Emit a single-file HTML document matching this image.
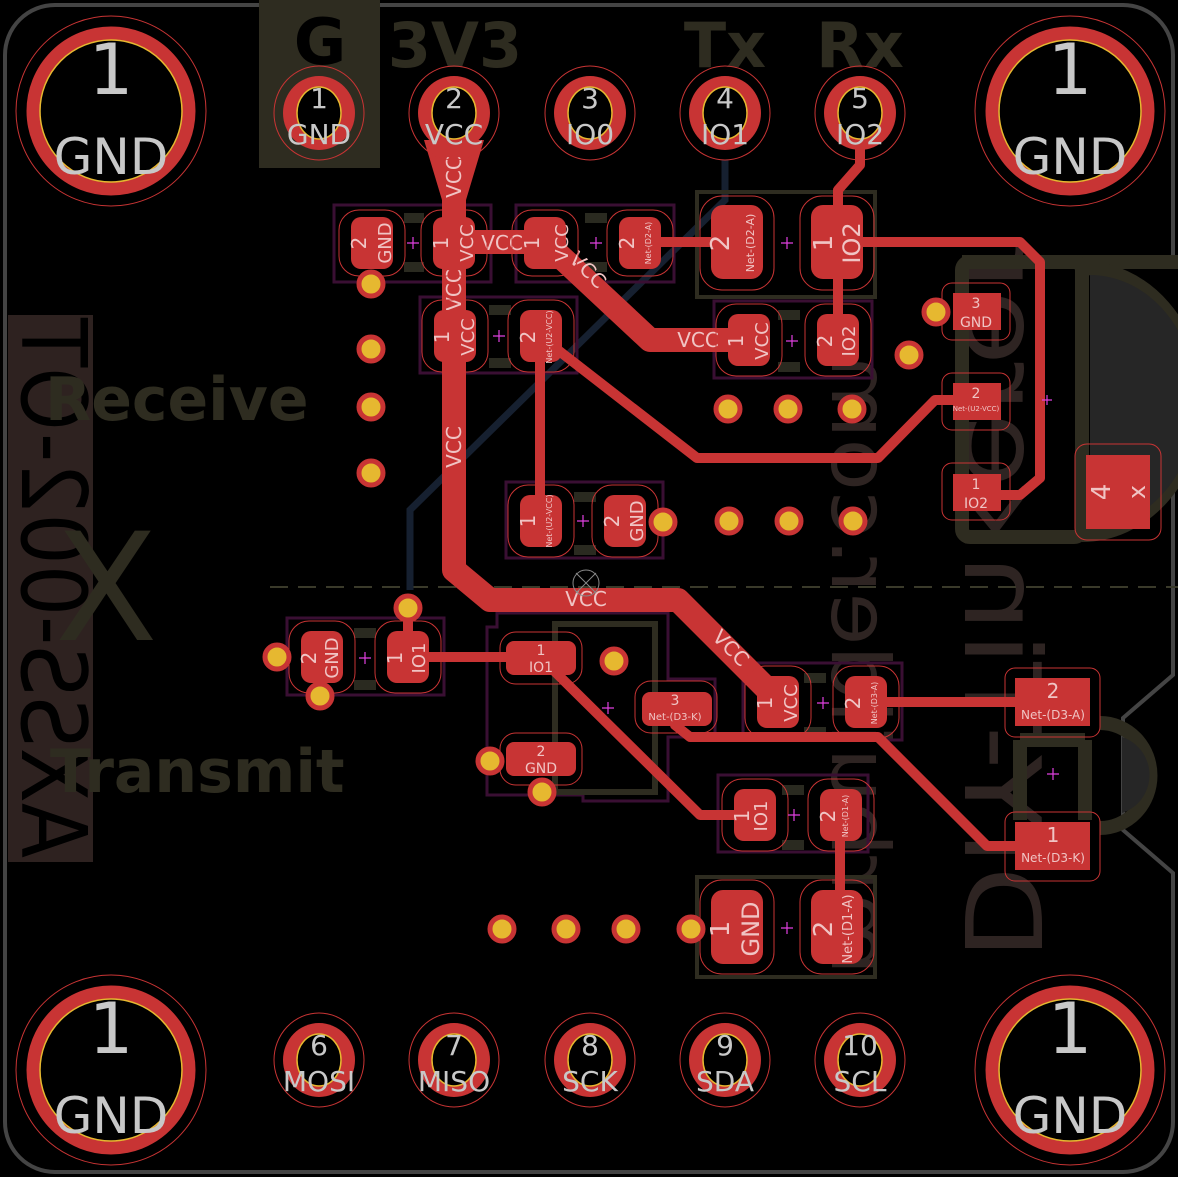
<!DOCTYPE html>
<html><head><meta charset="utf-8"><style>
html,body{margin:0;padding:0;background:#000;}
svg{display:block}
text{font-family:"DejaVu Sans","Liberation Sans",sans-serif;}
.pt{fill:#f0c4c4;text-anchor:middle;}
.pad{fill:#c83434;}
.po{fill:none;stroke:#c83434;stroke-width:1;}
.cy{fill:none;stroke:#3a0f33;stroke-width:3;}
.tr{stroke:#c83434;fill:none;stroke-linejoin:round;}
.via{fill:#e6b830;stroke:#c83434;stroke-width:5;}
.silk{fill:#2e2c20;}
.hd{fill:#c83434;}
.ht{fill:#c8c8c8;text-anchor:middle;}
</style></head><body>
<svg width="1178" height="1177" viewBox="0 0 1178 1177" xmlns="http://www.w3.org/2000/svg">
<rect width="1178" height="1177" fill="#000"/>
<path d="M55,5 H1123 A50,50 0 0 1 1173,55 V258 H1095 V440 H1173 V675 L1123,718 V830 L1173,873 V1122 A50,50 0 0 1 1123,1172 H55 A50,50 0 0 1 5,1122 V55 A50,50 0 0 1 55,5 Z" fill="none" stroke="#444" stroke-width="4"/>

<rect x="8" y="315" width="85" height="547" fill="#2e2220"/>
<text transform="translate(22,858) rotate(-90) scale(1,-1)" font-size="90" fill="#000" textLength="540" lengthAdjust="spacingAndGlyphs">AXSS-002-OT</text>
<text transform="translate(965,960) rotate(-90) scale(1,-1)" font-size="105" fill="#2e2422" textLength="720" lengthAdjust="spacingAndGlyphs">DIY-Tinkerer</text>
<text transform="translate(832,975) rotate(-90) scale(1,-1)" font-size="80" fill="#2e2422" textLength="620" lengthAdjust="spacingAndGlyphs">mrbuilder.com</text>

<g fill="none" stroke="#2e2c20" stroke-width="14">
<path d="M962,262 H1240"/>
<rect x="962" y="262" width="120" height="275" rx="8"/>
<path d="M1082,268 A95,110 0 0 1 1082,535"/>
</g>
<path d="M1090,275 A80,95 0 0 1 1090,528 Z" fill="#262626"/>
<g fill="none" stroke="#2e2c20" stroke-width="14">
<path d="M1020,740 V820 M1085,740 V820 M1020,740 H1085"/>
<path d="M1100,723 A50,52 0 0 1 1100,828"/>
</g>
<path d="M1122,737 A40,40 0 0 1 1122,813 Z" fill="#262626"/>

<rect x="259" y="0" width="121" height="168" fill="#2e2c20"/>
<text x="320" y="64" font-size="64" font-weight="bold" fill="#000" text-anchor="middle" font-family="Liberation Sans">G</text>
<g class="silk" font-size="62" font-weight="bold" font-family="Liberation Sans" text-anchor="middle">
<text x="455" y="67">3V3</text><text x="725" y="67">Tx</text><text x="860" y="67">Rx</text>
</g>
<text x="45" y="420" font-size="60" font-weight="bold" fill="#2e2c20" font-family="Liberation Sans">Receive</text>
<text x="50" y="792" font-size="60" font-weight="bold" fill="#2e2c20" font-family="Liberation Sans">Transmit</text>
<text x="55" y="640" font-size="150" fill="#2e2c20" font-family="DejaVu Sans">X</text>
<line x1="270" y1="587" x2="1178" y2="587" stroke="#3a3a2a" stroke-width="2" stroke-dasharray="18,10"/>

<path d="M725,160 V200 L410,510 V590" fill="none" stroke="#162030" stroke-width="7"/>

<g class="cy">
<rect x="334" y="205" width="157" height="77"/>
<rect x="516" y="205" width="158" height="77"/>
<rect x="697" y="192" width="178" height="105"/>
<rect x="420" y="297" width="157" height="76"/>
<rect x="714" y="301" width="158" height="77"/>
<rect x="506" y="482" width="157" height="76"/>
<rect x="287" y="618" width="157" height="77"/>
<path d="M497,627 H487 V795 H583 V801 H668 V737 H715 V679 H668 V613 H497Z"/>
<rect x="743" y="663" width="159" height="77"/>
<rect x="718" y="775" width="150" height="77"/>
<rect x="697" y="877" width="178" height="100"/>
</g>
<rect x="555" y="624" width="100" height="168" fill="none" stroke="#2e2c20" stroke-width="6"/>
<rect x="697" y="877" width="178" height="100" fill="none" stroke="#2e2c20" stroke-width="4"/>
<rect x="697" y="192" width="178" height="105" fill="none" stroke="#2e2c20" stroke-width="4"/>
<g fill="#2a2a20">
<rect x="404" y="213" width="20" height="10"/><rect x="404" y="262" width="20" height="10"/>
<rect x="585" y="213" width="22" height="10"/><rect x="585" y="262" width="22" height="10"/>
<rect x="489" y="305" width="22" height="10"/><rect x="489" y="358" width="22" height="10"/>
<rect x="778" y="310" width="22" height="10"/><rect x="778" y="362" width="22" height="10"/>
<rect x="574" y="492" width="22" height="10"/><rect x="574" y="545" width="22" height="10"/>
<rect x="354" y="628" width="22" height="10"/><rect x="354" y="680" width="22" height="10"/>
<rect x="804" y="673" width="22" height="10"/><rect x="804" y="727" width="22" height="10"/>
<rect x="782" y="785" width="22" height="10"/><rect x="782" y="840" width="22" height="10"/>
</g>

<path d="M424,140 L484,140 L466,200 H442Z" class="hd"/>
<path class="tr" stroke-width="24" d="M454,110 V570 L490,600 H678 L770,692"/>
<path class="tr" stroke-width="24" d="M454,242 H545 L650,340 H752"/>
<g class="tr" stroke-width="10">
<path d="M640,242 H735"/>
<path d="M860,115 V165 L838,190 V340"/>
<path d="M838,242 H1020 L1040,262 V478 L1020,495 H976"/>
<path d="M540,336 V520"/>
<path d="M545,340 L697,458 H878 L935,400 H976"/>
<path d="M408,608 V657 H540 L700,815 H760"/>
<path d="M675,707 V725 L690,737 H878 L987,846 H1053"/>
<path d="M860,702 H1053"/>
<path d="M840,815 V928"/>
</g>

<g fill="#f0c4c4" font-size="20" text-anchor="middle">
<text x="502" y="250">VCC</text>
<text x="698" y="347">VCC</text>
<text x="586" y="606">VCC</text>
<text transform="translate(461,177) rotate(-90)">VCC</text>
<text transform="translate(461,290) rotate(-90)">VCC</text>
<text transform="translate(461,447) rotate(-90)">VCC</text>
<text transform="translate(583,275) rotate(45)">VCC</text>
<text transform="translate(726,653) rotate(45)">VCC</text>
</g>

<g>
<g transform="translate(319,113)"><ellipse rx="45" ry="47" class="po"/><ellipse rx="36" ry="37" class="hd"/><ellipse rx="22" ry="26" fill="#000" stroke="#e6b830" stroke-width="1.5"/></g>
<g transform="translate(454,113)"><ellipse rx="45" ry="47" class="po"/><ellipse rx="36" ry="37" class="hd"/><ellipse rx="22" ry="26" fill="#000" stroke="#e6b830" stroke-width="1.5"/></g>
<g transform="translate(590,113)"><ellipse rx="45" ry="47" class="po"/><ellipse rx="36" ry="37" class="hd"/><ellipse rx="22" ry="26" fill="#000" stroke="#e6b830" stroke-width="1.5"/></g>
<g transform="translate(725,113)"><ellipse rx="45" ry="47" class="po"/><ellipse rx="36" ry="37" class="hd"/><ellipse rx="22" ry="26" fill="#000" stroke="#e6b830" stroke-width="1.5"/></g>
<g transform="translate(860,113)"><ellipse rx="45" ry="47" class="po"/><ellipse rx="36" ry="37" class="hd"/><ellipse rx="22" ry="26" fill="#000" stroke="#e6b830" stroke-width="1.5"/></g>
</g>
<g class="ht" font-size="28">
<text x="319" y="108">1</text><text x="319" y="144">GND</text>
<text x="454" y="108">2</text><text x="454" y="144">VCC</text>
<text x="590" y="108">3</text><text x="590" y="144">IO0</text>
<text x="725" y="108">4</text><text x="725" y="144">IO1</text>
<text x="860" y="108">5</text><text x="860" y="144">IO2</text>
</g>
<g>
<g transform="translate(319,1060)"><ellipse rx="45" ry="47" class="po"/><ellipse rx="36" ry="37" class="hd"/><ellipse rx="22" ry="26" fill="#000" stroke="#e6b830" stroke-width="1.5"/></g>
<g transform="translate(454,1060)"><ellipse rx="45" ry="47" class="po"/><ellipse rx="36" ry="37" class="hd"/><ellipse rx="22" ry="26" fill="#000" stroke="#e6b830" stroke-width="1.5"/></g>
<g transform="translate(590,1060)"><ellipse rx="45" ry="47" class="po"/><ellipse rx="36" ry="37" class="hd"/><ellipse rx="22" ry="26" fill="#000" stroke="#e6b830" stroke-width="1.5"/></g>
<g transform="translate(725,1060)"><ellipse rx="45" ry="47" class="po"/><ellipse rx="36" ry="37" class="hd"/><ellipse rx="22" ry="26" fill="#000" stroke="#e6b830" stroke-width="1.5"/></g>
<g transform="translate(860,1060)"><ellipse rx="45" ry="47" class="po"/><ellipse rx="36" ry="37" class="hd"/><ellipse rx="22" ry="26" fill="#000" stroke="#e6b830" stroke-width="1.5"/></g>
</g>
<g class="ht" font-size="28">
<text x="319" y="1055">6</text><text x="319" y="1091">MOSI</text>
<text x="454" y="1055">7</text><text x="454" y="1091">MISO</text>
<text x="590" y="1055">8</text><text x="590" y="1091">SCK</text>
<text x="725" y="1055">9</text><text x="725" y="1091">SDA</text>
<text x="860" y="1055">10</text><text x="860" y="1091">SCL</text>
</g>

<g>
<g transform="translate(111,111)"><circle r="95" class="po"/><circle r="78" fill="none" stroke="#c83434" stroke-width="13"/><circle r="71" fill="none" stroke="#e6b830" stroke-width="1.5"/></g>
<g transform="translate(1070,111)"><circle r="95" class="po"/><circle r="78" fill="none" stroke="#c83434" stroke-width="13"/><circle r="71" fill="none" stroke="#e6b830" stroke-width="1.5"/></g>
<g transform="translate(111,1070)"><circle r="95" class="po"/><circle r="78" fill="none" stroke="#c83434" stroke-width="13"/><circle r="71" fill="none" stroke="#e6b830" stroke-width="1.5"/></g>
<g transform="translate(1070,1070)"><circle r="95" class="po"/><circle r="78" fill="none" stroke="#c83434" stroke-width="13"/><circle r="71" fill="none" stroke="#e6b830" stroke-width="1.5"/></g>
</g>
<g class="ht" fill="#c0c0c0">
<text x="111" y="94" font-size="70">1</text><text x="111" y="174" font-size="50">GND</text>
<text x="1070" y="94" font-size="70">1</text><text x="1070" y="174" font-size="50">GND</text>
<text x="111" y="1053" font-size="70">1</text><text x="111" y="1133" font-size="50">GND</text>
<text x="1070" y="1053" font-size="70">1</text><text x="1070" y="1133" font-size="50">GND</text>
</g>

<g>
<rect x="339" y="210" width="66" height="66" rx="20" class="po"/><rect x="351" y="217" width="42" height="52" rx="10" class="pad"/>
<rect x="421" y="210" width="66" height="66" rx="20" class="po"/><rect x="433" y="217" width="42" height="52" rx="10" class="pad"/>
<rect x="512" y="210" width="66" height="66" rx="20" class="po"/><rect x="524" y="217" width="42" height="52" rx="10" class="pad"/>
<rect x="607" y="210" width="66" height="66" rx="20" class="po"/><rect x="619" y="217" width="42" height="52" rx="10" class="pad"/>
<rect x="700" y="196" width="74" height="94" rx="22" class="po"/><rect x="711" y="205" width="52" height="74" rx="12" class="pad"/>
<rect x="800" y="196" width="74" height="94" rx="22" class="po"/><rect x="811" y="205" width="52" height="74" rx="12" class="pad"/>
<rect x="422" y="300" width="66" height="72" rx="20" class="po"/><rect x="434" y="310" width="42" height="52" rx="10" class="pad"/>
<rect x="508" y="300" width="66" height="72" rx="20" class="po"/><rect x="520" y="310" width="42" height="52" rx="10" class="pad"/>
<rect x="716" y="304" width="66" height="72" rx="20" class="po"/><rect x="728" y="314" width="42" height="52" rx="10" class="pad"/>
<rect x="805" y="304" width="66" height="72" rx="20" class="po"/><rect x="817" y="314" width="42" height="52" rx="10" class="pad"/>
<rect x="508" y="485" width="66" height="72" rx="20" class="po"/><rect x="520" y="495" width="42" height="52" rx="10" class="pad"/>
<rect x="592" y="485" width="66" height="72" rx="20" class="po"/><rect x="604" y="495" width="42" height="52" rx="10" class="pad"/>
<rect x="289" y="621" width="66" height="72" rx="20" class="po"/><rect x="301" y="631" width="42" height="52" rx="10" class="pad"/>
<rect x="375" y="621" width="66" height="72" rx="20" class="po"/><rect x="387" y="631" width="42" height="52" rx="10" class="pad"/>
<rect x="745" y="666" width="66" height="72" rx="20" class="po"/><rect x="757" y="676" width="42" height="52" rx="10" class="pad"/>
<rect x="833" y="666" width="66" height="72" rx="20" class="po"/><rect x="845" y="676" width="42" height="52" rx="10" class="pad"/>
<rect x="722" y="779" width="66" height="72" rx="20" class="po"/><rect x="734" y="789" width="42" height="52" rx="10" class="pad"/>
<rect x="808" y="779" width="66" height="72" rx="20" class="po"/><rect x="820" y="789" width="42" height="52" rx="10" class="pad"/>
<rect x="700" y="880" width="74" height="94" rx="22" class="po"/><rect x="711" y="890" width="52" height="74" rx="12" class="pad"/>
<rect x="800" y="880" width="74" height="94" rx="22" class="po"/><rect x="811" y="890" width="52" height="74" rx="12" class="pad"/>
<rect x="500" y="632" width="82" height="52" rx="16" class="po"/><rect x="506" y="641" width="70" height="34" rx="8" class="pad"/>
<rect x="500" y="733" width="82" height="52" rx="16" class="po"/><rect x="506" y="742" width="70" height="34" rx="8" class="pad"/>
<rect x="635" y="681" width="82" height="52" rx="16" class="po"/><rect x="642" y="692" width="70" height="34" rx="8" class="pad"/>
<rect x="942" y="283" width="68" height="57" rx="10" class="po"/><rect x="953" y="293" width="48" height="37" class="pad"/>
<rect x="942" y="373" width="68" height="57" rx="10" class="po"/><rect x="953" y="383" width="48" height="37" class="pad"/>
<rect x="942" y="463" width="68" height="57" rx="10" class="po"/><rect x="953" y="474" width="48" height="37" class="pad"/>
<rect x="1075" y="444" width="86" height="96" rx="12" class="po"/><rect x="1086" y="455" width="64" height="74" class="pad"/>
<rect x="1005" y="668" width="95" height="69" rx="10" class="po"/><rect x="1015" y="678" width="75" height="48" class="pad"/>
<rect x="1005" y="812" width="95" height="69" rx="10" class="po"/><rect x="1015" y="822" width="75" height="48" class="pad"/>
</g>

<g class="pt">
<g font-size="20">
<text transform="translate(366,243) rotate(-90)">2</text>
<text transform="translate(448,243) rotate(-90)">1</text>
<text transform="translate(539,243) rotate(-90)">1</text>
<text transform="translate(634,243) rotate(-90)">2</text>
<text transform="translate(449,337) rotate(-90)">1</text>
<text transform="translate(535,337) rotate(-90)">2</text>
<text transform="translate(743,341) rotate(-90)">1</text>
<text transform="translate(832,341) rotate(-90)">2</text>
<text transform="translate(535,521) rotate(-90)">1</text>
<text transform="translate(619,521) rotate(-90)">2</text>
<text transform="translate(316,658) rotate(-90)">2</text>
<text transform="translate(402,658) rotate(-90)">1</text>
<text transform="translate(772,703) rotate(-90)">1</text>
<text transform="translate(860,703) rotate(-90)">2</text>
<text transform="translate(749,816) rotate(-90)">1</text>
<text transform="translate(835,816) rotate(-90)">2</text>
</g>
<g font-size="18">
<text transform="translate(391,243) rotate(-90)">GND</text>
<text transform="translate(473,243) rotate(-90)">VCC</text>
<text transform="translate(568,243) rotate(-90)">VCC</text>
<text transform="translate(474,337) rotate(-90)">VCC</text>
<text transform="translate(768,341) rotate(-90)">VCC</text>
<text transform="translate(855,341) rotate(-90)">IO2</text>
<text transform="translate(643,521) rotate(-90)">GND</text>
<text transform="translate(338,658) rotate(-90)">GND</text>
<text transform="translate(425,658) rotate(-90)">IO1</text>
<text transform="translate(797,703) rotate(-90)">VCC</text>
<text transform="translate(767,816) rotate(-90)">IO1</text>
</g>
<g font-size="8">
<text transform="translate(651,243) rotate(-90)">Net-(D2-A)</text>
<text transform="translate(552,337) rotate(-90)">Net-(U2-VCC)</text>
<text transform="translate(552,521) rotate(-90)">Net-(U2-VCC)</text>
<text transform="translate(877,703) rotate(-90)">Net-(D3-A)</text>
<text transform="translate(848,816) rotate(-90)">Net-(D1-A)</text>
</g>
<g font-size="26">
<text transform="translate(729,243) rotate(-90)">2</text>
<text transform="translate(832,243) rotate(-90)">1</text>
<text transform="translate(729,929) rotate(-90)">1</text>
<text transform="translate(832,929) rotate(-90)">2</text>
<text transform="translate(1110,492) rotate(-90)">4</text>
</g>
<text transform="translate(860,243) rotate(-90)" font-size="24">IO2</text>
<text transform="translate(759,929) rotate(-90)" font-size="24">GND</text>
<text transform="translate(754,243) rotate(-90)" font-size="11">Net-(D2-A)</text>
<text transform="translate(852,929) rotate(-90)" font-size="13">Net-(D1-A)</text>
<text transform="translate(1145,492) rotate(-90)" font-size="24">x</text>
<g font-size="14">
<text x="541" y="655">1</text><text x="541" y="672">IO1</text>
<text x="541" y="756">2</text><text x="541" y="773">GND</text>
<text x="675" y="705">3</text>
<text x="976" y="308">3</text><text x="976" y="327">GND</text>
<text x="976" y="398">2</text>
<text x="976" y="489">1</text><text x="976" y="508">IO2</text>
</g>
<text x="675" y="720" font-size="10">Net-(D3-K)</text>
<text x="976" y="411" font-size="7">Net-(U2-VCC)</text>
<g font-size="20"><text x="1053" y="698">2</text><text x="1053" y="842">1</text></g>
<g font-size="12"><text x="1053" y="719">Net-(D3-A)</text><text x="1053" y="862">Net-(D3-K)</text></g>
</g>

<g stroke="#e040e0" stroke-width="1.2">
<path d="M407,243 h12 M413,237 v12"/><path d="M590,243 h12 M596,237 v12"/>
<path d="M781,243 h12 M787,237 v12"/><path d="M493,336 h12 M499,330 v12"/>
<path d="M786,341 h12 M792,335 v12"/><path d="M577,521 h12 M583,515 v12"/>
<path d="M359,658 h12 M365,652 v12"/><path d="M602,708 h12 M608,702 v12"/>
<path d="M817,703 h12 M823,697 v12"/><path d="M788,815 h12 M794,809 v12"/>
<path d="M781,928 h12 M787,922 v12"/><path d="M1047,774 h12 M1053,768 v12"/>
<path d="M1042,400 h10 M1047,395 v10"/>
</g>
<g stroke="#888" stroke-width="1" fill="none"><circle cx="586" cy="583" r="13"/><path d="M576,573 L596,593 M596,573 L576,593"/></g>

<g>
<circle cx="371" cy="284" r="12" class="via"/><circle cx="371" cy="349" r="12" class="via"/>
<circle cx="371" cy="407" r="12" class="via"/><circle cx="371" cy="473" r="12" class="via"/>
<circle cx="936" cy="312" r="12" class="via"/><circle cx="909" cy="355" r="12" class="via"/>
<circle cx="728" cy="409" r="12" class="via"/><circle cx="788" cy="409" r="12" class="via"/>
<circle cx="852" cy="409" r="12" class="via"/><circle cx="663" cy="522" r="12" class="via"/>
<circle cx="729" cy="521" r="12" class="via"/><circle cx="789" cy="521" r="12" class="via"/>
<circle cx="853" cy="521" r="12" class="via"/><circle cx="408" cy="608" r="12" class="via"/>
<circle cx="277" cy="657" r="12" class="via"/><circle cx="320" cy="696" r="12" class="via"/>
<circle cx="614" cy="661" r="12" class="via"/><circle cx="490" cy="761" r="12" class="via"/>
<circle cx="542" cy="792" r="12" class="via"/><circle cx="502" cy="929" r="12" class="via"/>
<circle cx="566" cy="929" r="12" class="via"/><circle cx="626" cy="929" r="12" class="via"/>
<circle cx="691" cy="929" r="12" class="via"/>
</g>
</svg>
</body></html>
